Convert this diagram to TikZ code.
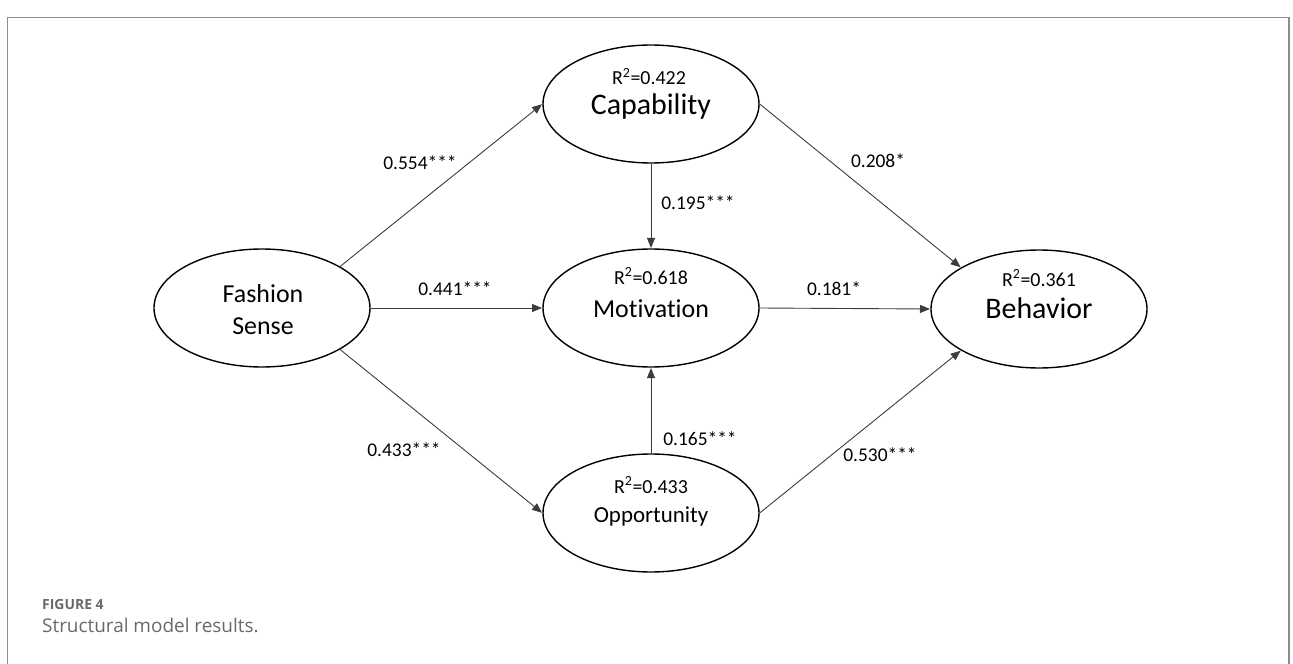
\documentclass[tikz,border=0pt]{standalone}
\usepackage{fontspec}
\setmainfont{Carlito}[Ligatures={NoCommon}]
\newfontfamily\capfont{Open Sans}
\usetikzlibrary{arrows.meta,shapes.geometric}
\definecolor{framegray}{RGB}{140,140,140}
\definecolor{capgray}{RGB}{105,105,105}
\definecolor{linegray}{RGB}{60,60,60}
\tikzset{
  ell/.style={draw=black, line width=1.4bp, ellipse, minimum width=216bp, minimum height=118bp, inner sep=0pt},
  arr/.style={draw=linegray, line width=0.9bp, -{Triangle[length=10bp,width=8bp]}, shorten >=0.3bp},
  coef/.style={anchor=base, font=\fontsize{19.5}{22}\selectfont, inner sep=0pt},
  rsq/.style={anchor=base, font=\fontsize{20}{22}\selectfont, inner sep=0pt},
  bigname/.style={anchor=base, font=\fontsize{30}{32}\selectfont, inner sep=0pt},
  midname/.style={anchor=base, font=\fontsize{26}{28}\selectfont, inner sep=0pt},
  smallname/.style={anchor=base, font=\fontsize{23}{26}\selectfont, inner sep=0pt},
  frame/.style={draw=framegray, line width=1.4bp},
  captitle/.style={anchor=base west, text=capgray, font=\capfont\bfseries\fontsize{14}{16}\selectfont, inner sep=0pt},
  captext/.style={anchor=base west, text=capgray, font=\capfont\fontsize{19}{22}\selectfont, inner sep=0pt}
}
\begin{document}
\begin{tikzpicture}[x=1bp,y=1bp]
\useasboundingbox (0,0) rectangle (1293,-664);
\draw[frame] (7.5,-664) -- (7.5,-17.5) -- (1289,-17.5) -- (1289,-664);

% ellipses
\node[ell] (fs)  at (262,-308) {};
\node[ell] (cap) at (651,-104) {};
\node[ell] (mot) at (651,-308) {};
\node[ell] (opp) at (651,-513) {};
\node[ell] (beh) at (1039,-309) {};

% texts in ellipses
\node[midname] (fsA) at (263,-302) {Fashion};
\node[midname] (fsB) at (263,-334) {Sense};
\node[rsq] (capR) at (649,-85) {R\textsuperscript{2}=0.422};
\node[bigname] (capN) at (651,-115) {Capability};
\node[rsq] (motR) at (651,-284) {R\textsuperscript{2}=0.618};
\node[midname] (motN) at (651,-317) {Motivation};
\node[rsq] (behR) at (1039,-286) {R\textsuperscript{2}=0.361};
\node[bigname] (behN) at (1039,-318) {Behavior};
\node[rsq] (oppR) at (651,-493) {R\textsuperscript{2}=0.433};
\node[smallname] (oppN) at (651,-522) {Opportunity};

% connectors
\draw[arr] (fs.28) -- (cap.west);
\draw[arr] (fs.east) -- (mot.west);
\draw[arr] (fs.-28) -- (opp.west);
\draw[arr] (cap.south) -- (mot.north);
\draw[arr] (opp.north) -- (mot.south);
\draw[arr] (cap.east) -- (beh.152);
\draw[arr] (mot.east) -- (beh.west);
\draw[arr] (opp.east) -- (beh.208);

% coefficients
\node[coef] (c1) at (420,-170) {0.554***};
\node[coef] (c2) at (455,-295) {0.441***};
\node[coef] (c3) at (404,-456) {0.433***};
\node[coef] (c4) at (878,-168) {0.208*};
\node[coef] (c5) at (834,-295) {0.181*};
\node[coef] (c6) at (880,-461) {0.530***};
\node[coef] (c7) at (698,-210) {0.195***};
\node[coef] (c8) at (700,-445) {0.165***};

% caption
\node[captitle] (figt) at (42,-609) {FIGURE 4};
\node[captext] (figc) at (42,-632) {Structural model results.};
\end{tikzpicture}
\end{document}
